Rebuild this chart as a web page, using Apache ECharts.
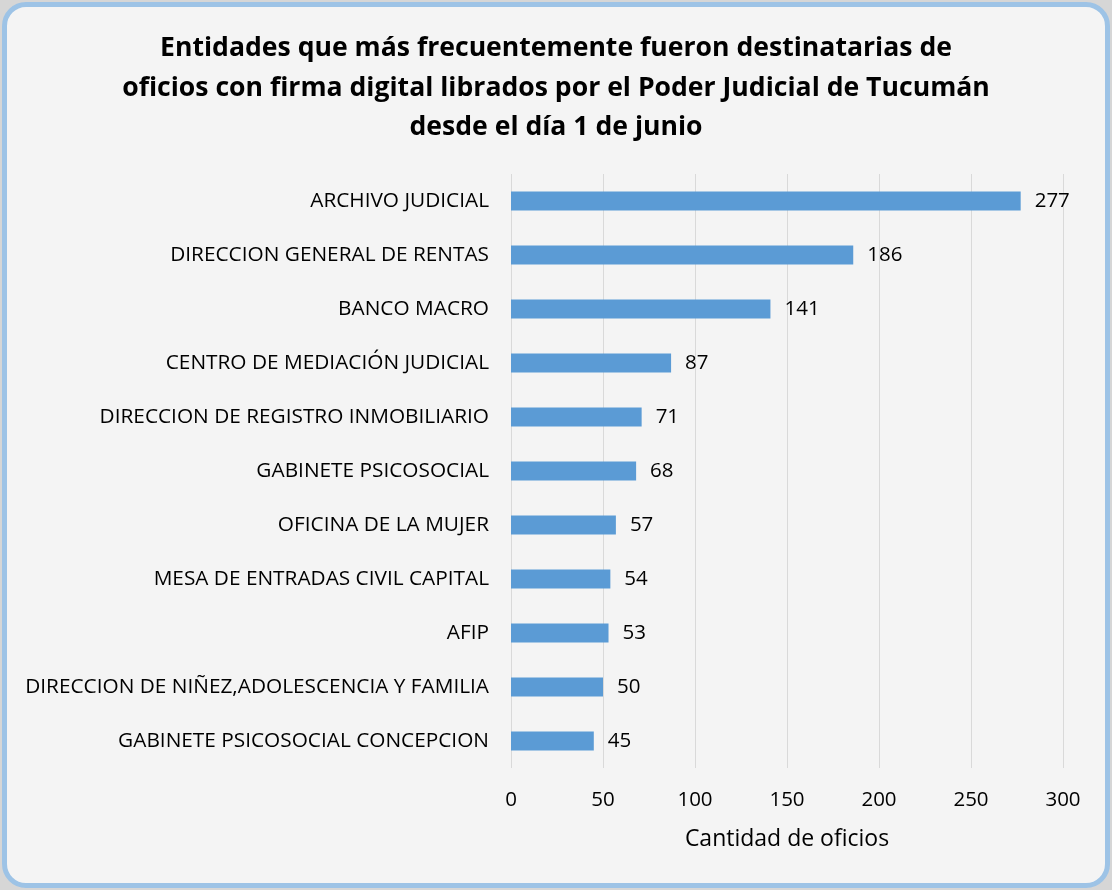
<!DOCTYPE html>
<html>
<head>
<meta charset="utf-8">
<script src="https://cdn.jsdelivr.net/npm/echarts@6/dist/echarts.min.js"></script>
<style>
    html, body { margin: 0; padding: 0; background: #d6d6d6; }
    #frame {
        position: absolute; left: 2px; top: 2px; width: 1098px; height: 876px;
        border: 5px solid #9dc3e6; border-radius: 24px; background: #f4f4f4;
    }
    #main { position: absolute; left: 0; top: 0; width: 1112px; height: 890px; }
</style>
</head>
<body>
<div id="frame"></div>
<div id="main"></div>
<script>
// entidades destinatarias (de mayor a menor)
var entidades = [
    'ARCHIVO JUDICIAL',
    'DIRECCION GENERAL DE RENTAS',
    'BANCO MACRO',
    'CENTRO DE MEDIACIÓN JUDICIAL',
    'DIRECCION DE REGISTRO INMOBILIARIO',
    'GABINETE PSICOSOCIAL',
    'OFICINA DE LA MUJER',
    'MESA DE ENTRADAS CIVIL CAPITAL',
    'AFIP',
    'DIRECCION DE NIÑEZ,ADOLESCENCIA Y FAMILIA',
    'GABINETE PSICOSOCIAL CONCEPCION'
];
var cantidades = [277, 186, 141, 87, 71, 68, 57, 54, 53, 50, 45];

var fuente = 'Open Sans';

function barChart (target) {
    var chart = echarts.init(document.getElementById(target));
    var option = {
        backgroundColor: 'transparent',
        textStyle: { fontFamily: fuente },
        title : {
            text: 'Entidades que más frecuentemente fueron destinatarias de\n' +
                  'oficios con firma digital librados por el Poder Judicial de Tucumán\n' +
                  'desde el día 1 de junio',
            left: 'center',
            top: 24,
            textStyle: {
                fontFamily: fuente,
                fontSize: 26.6,
                fontWeight: 'bold',
                lineHeight: 39.5,
                color: '#000'
            }
        },
        grid: {
            left: 511,
            right: 49,
            top: 174,
            bottom: 122
        },
        xAxis : {
            type : 'value',
            min: 0,
            max: 300,
            interval: 50,
            name: 'Cantidad de oficios',
            nameLocation: 'middle',
            nameGap: 60,
            nameTextStyle: { fontSize: 23, color: '#000' },
            axisLine: { show: false },
            axisTick: { show: false },
            axisLabel: { fontSize: 20.5, color: '#000', margin: 22 },
            splitLine: {           // 分隔线
                show: true,
                lineStyle: { color: '#d9d9d9', width: 1 }
            }
        },
        yAxis : {
            type : 'category',
            inverse: true,
            data : entidades,
            axisLine: { show: false },
            axisTick: { show: false },
            axisLabel: { fontSize: 20.8, color: '#000', margin: 22 }
        },
        series : [
            {
                type: 'bar',
                data: cantidades,
                barWidth: 19,
                itemStyle: { color: '#5b9bd5' },
                label: {
                    show: true,
                    position: 'right',
                    distance: 14,
                    fontSize: 20.5,
                    color: '#000'
                }
            }
        ]
    };
    chart.setOption(option);
}

barChart('main');
</script>
</body>
</html>
